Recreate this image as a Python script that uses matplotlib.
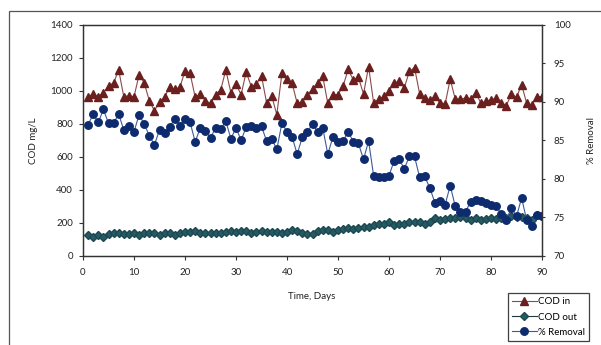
import matplotlib
matplotlib.use("Agg")
import matplotlib.pyplot as plt
from matplotlib.patches import Rectangle

plt.rcParams['font.family'] = ['Lato', 'DejaVu Sans']

# daily samples
days = list(range(1, 91))

# influent COD, mg/L
cod_in = [964, 980, 963, 988, 1028, 1048, 1125, 963, 970, 963,
          1097, 1048, 939, 879, 931, 960, 1024, 1008, 1020, 1121,
          1105, 960, 980, 939, 923, 976, 1004, 1125, 988, 1040,
          976, 1113, 1024, 1040, 1089, 927, 968, 855, 1105, 1069,
          1045, 923, 931, 976, 1008, 1045, 1089, 923, 976, 976,
          1028, 1129, 1065, 1081, 980, 1146, 923, 948, 966, 1000,
          1045, 1058, 1018, 1118, 1140, 982, 958, 942, 968, 925,
          919, 1069, 948, 948, 957, 952, 988, 925, 935, 946,
          953, 925, 910, 980, 959, 1037, 923, 911, 964, 964]

# effluent COD, mg/L
cod_out = [125, 111, 125, 111, 131, 139, 135, 131, 131, 135,
           127, 135, 135, 135, 127, 135, 139, 125, 135, 143,
           143, 149, 135, 135, 139, 135, 139, 143, 151, 143,
           151, 149, 139, 143, 151, 143, 143, 143, 139, 145,
           158, 151, 139, 131, 131, 150, 154, 155, 142, 154,
           162, 166, 162, 170, 174, 176, 186, 194, 194, 202,
           186, 190, 194, 202, 206, 202, 190, 206, 230, 218,
           222, 230, 226, 234, 226, 218, 226, 214, 222, 226,
           222, 230, 226, 242, 234, 234, 230, 218, 246, 238]

# removal efficiency, %
removal = [87.0, 88.4, 87.3, 89.0, 87.2, 87.2, 88.4, 86.3, 86.9, 86.1,
           88.3, 87.1, 85.6, 84.4, 86.3, 85.9, 86.7, 87.8, 86.9, 87.8,
           87.3, 84.8, 86.6, 86.2, 85.3, 86.6, 86.4, 87.5, 85.2, 86.6,
           85.0, 86.7, 86.9, 86.6, 86.8, 84.9, 85.2, 83.8, 87.2, 86.1,
           85.4, 83.2, 85.4, 86.1, 87.1, 86.1, 86.6, 83.2, 85.4, 84.8,
           84.9, 86.1, 84.8, 84.6, 82.5, 84.9, 80.3, 80.2, 80.2, 80.4,
           82.3, 82.5, 81.3, 82.9, 82.9, 80.2, 80.3, 78.8, 76.9, 77.1,
           76.6, 79.1, 76.4, 75.7, 75.7, 77.0, 77.2, 77.1, 76.9, 76.6,
           76.5, 75.4, 74.7, 76.2, 75.1, 77.5, 74.6, 73.9, 75.3, 75.2]

fig = plt.figure(figsize=(6.01, 3.45), dpi=100)

# chart area border
fig.patches.append(Rectangle((9 / 601, -0.1), 1.0, 1 - 11 / 345 + 0.1,
                             transform=fig.transFigure, fill=False,
                             edgecolor='#555555', linewidth=0.9))

ax = fig.add_axes([83 / 601, 1 - 255.7 / 345, 459 / 601, 231 / 345])
ax2 = ax.twinx()

l1, = ax.plot(days, cod_in, color='#8C4A4A', linewidth=0.8, marker='^',
              markersize=5.2, markerfacecolor='#6B1F1F', markeredgecolor='#6B1F1F',
              label='COD in')
l2, = ax.plot(days, cod_out, color='#1E3A40', linewidth=0.8, marker='D',
              markersize=3.6, markerfacecolor='#245A64', markeredgecolor='#1E4850',
              label='COD out')
l3, = ax2.plot(days, removal, color='#3D5B99', linewidth=0.8, marker='o',
               markersize=5.4, markerfacecolor='#0D2B6E', markeredgecolor='#0D2B6E',
               label='% Removal')

ax.set_xlim(0, 90)
ax.set_ylim(0, 1400)
ax2.set_ylim(70, 100)
ax.set_xticks(range(0, 91, 10))
ax.set_yticks(range(0, 1401, 200))
ax2.set_yticks(range(70, 101, 5))

for a in (ax, ax2):
    for s in a.spines.values():
        s.set_color('#333333')
        s.set_linewidth(0.9)
ax.tick_params(axis='both', labelsize=7, length=3, width=0.8, color='#333333',
               labelcolor='#222222')
ax.tick_params(axis='y', pad=4.3)
ax.tick_params(axis='x', pad=6)
ax2.tick_params(axis='y', labelsize=7, length=2.5, width=0.8, color='#333333',
                labelcolor='#222222', pad=6)

ax.set_ylabel('COD mg/L', fontsize=7, color='#222222')
ax.yaxis.set_label_coords(-0.097, 0.5)
ax2.set_ylabel('% Removal', fontsize=7, color='#222222')
ax2.yaxis.set_label_coords(1.098, 0.5)
ax.set_xlabel('Time, Days', fontsize=7, color='#222222')
ax.xaxis.set_label_coords(0.499, -0.155)

leg = fig.legend(handles=[l1, l2, l3], loc='upper left',
                 bbox_to_anchor=(507.7 / 601, 1 - 293.3 / 345),
                 fontsize=7, frameon=True, fancybox=False, borderpad=0.4,
                 handlelength=2.6, handletextpad=0.15, labelspacing=0.65,
                 borderaxespad=0)
leg.get_frame().set_edgecolor('#111111')
leg.get_frame().set_linewidth(0.9)

fig.savefig('out.png', dpi=100)
